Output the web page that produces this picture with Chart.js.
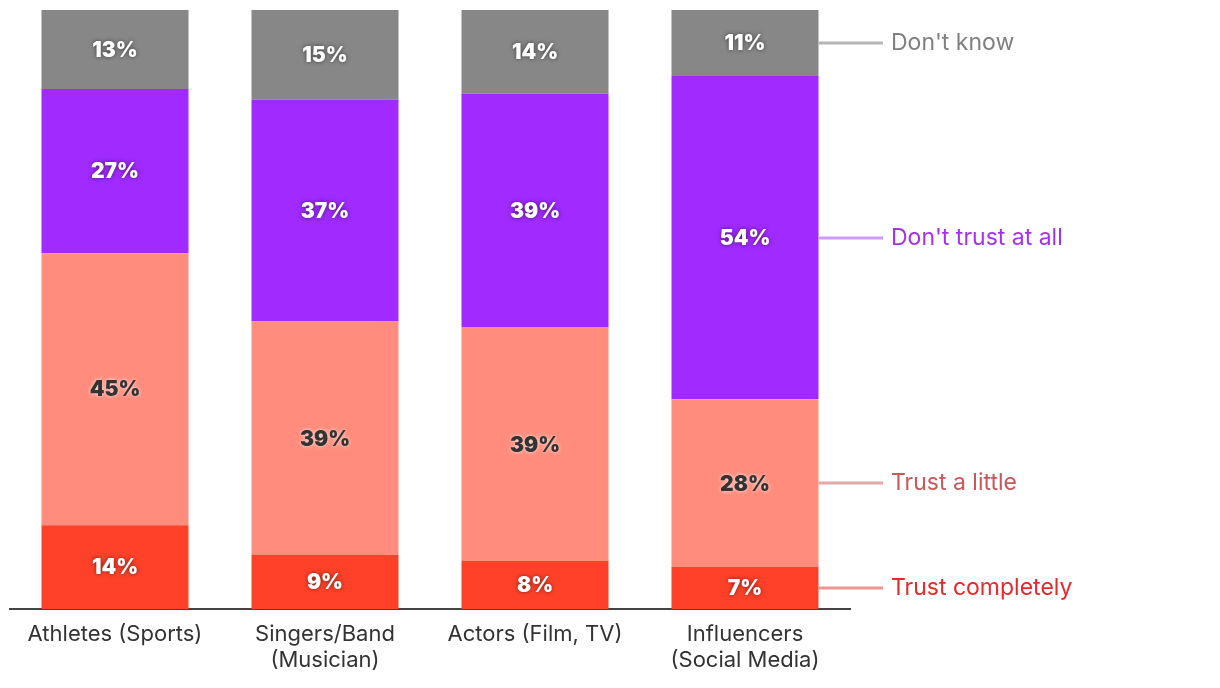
<!DOCTYPE html>
<html>
<head>
<meta charset="utf-8">
<script src="https://cdn.jsdelivr.net/npm/chart.js@4.4.1/dist/chart.umd.min.js"></script>
<style>
  html, body { margin: 0; padding: 0; background: #fff; }
  #wrap { width: 1220px; height: 688px; }
</style>
</head>
<body>
<div id="wrap"><canvas id="chart"></canvas></div>
<script>
const categories = [
  ['Athletes (Sports)'],
  ['Singers/Band', '(Musician)'],
  ['Actors (Film, TV)'],
  ['Influencers', '(Social Media)'],
];
const seriesNames = ['Trust completely', 'Trust a little', "Don't trust at all", "Don't know"];
const trustCompletely = [14, 9, 8, 7];
const trustLittle = [45.4, 39, 39, 28];
const dontTrust = [27.4, 37, 39, 54];
const dontKnow = [13.2, 15, 14, 11];

const barColors = ['#ff4129', '#ff8c7c', '#a02aff', '#878787'];
const labelColors = ['#e8282a', '#c9585a', '#a530f5', '#808080'];
const connectorColors = ['#ef9592', '#e2a9a8', '#cf99ff', '#b5b5b5'];

// value labels inside each bar segment
const valueLabels = {
  id: 'valueLabels',
  afterDatasetsDraw(chart) {
    const ctx = chart.ctx;
    ctx.save();
    ctx.font = '900 21px Inter';
    ctx.textAlign = 'center';
    ctx.textBaseline = 'middle';
    chart.data.datasets.forEach((ds, i) => {
      const meta = chart.getDatasetMeta(i);
      meta.data.forEach((bar, j) => {
        const y = (bar.y + bar.base) / 2;
        const txt = Math.round(ds.data[j]) + '%';
        if (i === 1) {
          ctx.shadowColor = 'rgba(255,255,255,0.8)';
          ctx.fillStyle = '#333';
        } else {
          ctx.shadowColor = 'rgba(0,0,0,0.55)';
          ctx.fillStyle = '#fff';
        }
        ctx.shadowBlur = 4;
        ctx.fillText(txt, bar.x, y + 1);
      });
    });
    ctx.restore();
  }
};

// series names at the right of the last bar
const sideLabels = {
  id: 'sideLabels',
  afterDatasetsDraw(chart) {
    const ctx = chart.ctx;
    ctx.save();
    ctx.font = '23px Inter';
    ctx.textAlign = 'left';
    ctx.textBaseline = 'middle';
    chart.data.datasets.forEach((ds, i) => {
      const meta = chart.getDatasetMeta(i);
      const bar = meta.data[meta.data.length - 1];
      const y = Math.round((bar.y + bar.base) / 2);
      ctx.strokeStyle = connectorColors[i];
      ctx.lineWidth = 3;
      ctx.beginPath();
      ctx.moveTo(bar.x + bar.width / 2, y);
      ctx.lineTo(883, y);
      ctx.stroke();
      ctx.fillStyle = labelColors[i];
      ctx.fillText(seriesNames[i], 891, y);
    });
    ctx.restore();
  }
};

const seriesValues = [trustCompletely, trustLittle, dontTrust, dontKnow];

new Chart(document.getElementById('chart'), {
  type: 'bar',
  data: {
    labels: categories,
    datasets: seriesValues.map((vals, i) => ({
      label: seriesNames[i],
      data: vals,
      backgroundColor: barColors[i],
      borderWidth: 0,
      barPercentage: 0.7,
      categoryPercentage: 1,
    })),
  },
  options: {
    responsive: true,
    maintainAspectRatio: false,
    animation: false,
    layout: { padding: { left: 10, right: 370, top: 10, bottom: 0 } },
    plugins: {
      legend: { display: false },
      tooltip: { enabled: false },
    },
    scales: {
      x: {
        stacked: true,
        grid: { display: false },
        border: { display: true, color: '#444', width: 2 },
        ticks: {
          color: '#333',
          font: { family: 'Inter', size: 22, lineHeight: 1.18 },
          padding: 4,
          maxRotation: 0,
        },
        afterFit(scale) { scale.height = 79; },
      },
      y: {
        stacked: true,
        display: false,
        min: 0,
        max: 100,
      },
    },
  },
  plugins: [valueLabels, sideLabels],
});
</script>
</body>
</html>
